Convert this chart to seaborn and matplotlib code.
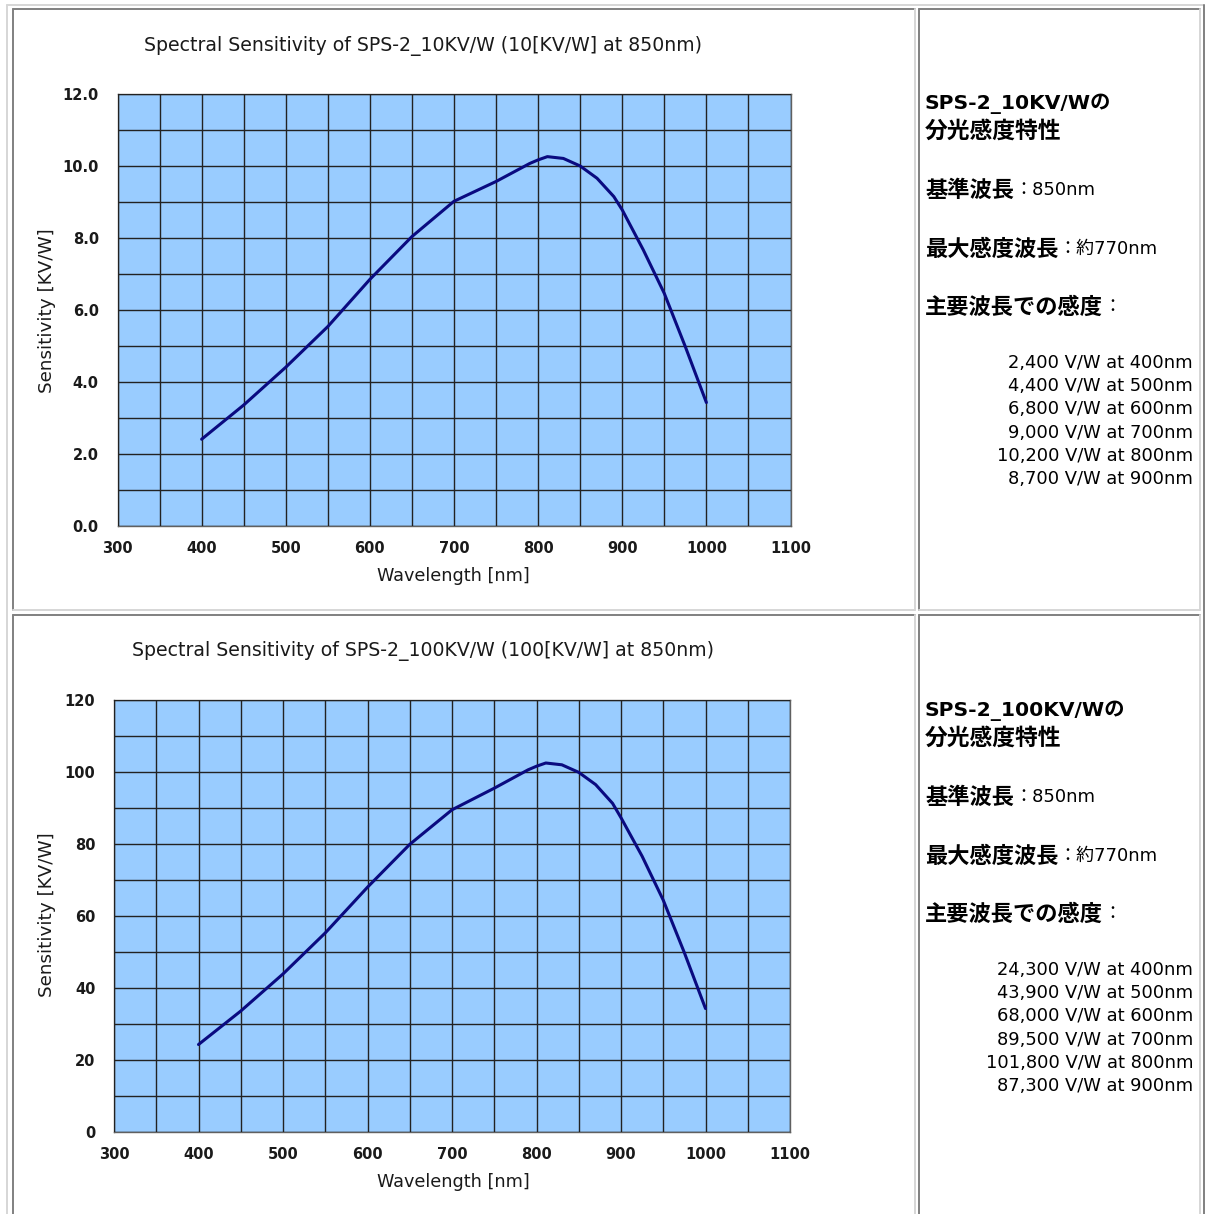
import numpy as np
import pandas as pd
import matplotlib
matplotlib.use("Agg")
import matplotlib.pyplot as plt
import seaborn as sns
from matplotlib.lines import Line2D

# ---------------- data ----------------
wavelength_nm = [400, 450, 500, 550, 600, 650, 700, 750, 790, 800, 811, 830,
                 850, 870, 890, 900, 925, 950, 975, 1000]
sens_10kvw = [2.41, 3.36, 4.41, 5.54, 6.85, 8.04, 9.02, 9.57, 10.07, 10.17, 10.26,
              10.21, 10.00, 9.66, 9.15, 8.78, 7.67, 6.46, 4.98, 3.43]
sens_100kvw = [24.3, 33.6, 43.9, 55.3, 68.0, 79.9, 89.5, 95.5, 100.6, 101.6, 102.5,
               102.0, 99.9, 96.5, 91.3, 87.3, 76.6, 64.4, 49.8, 34.3]

x_ticks = [300, 400, 500, 600, 700, 800, 900, 1000, 1100]
y_ticks_10 = [0.0, 2.0, 4.0, 6.0, 8.0, 10.0, 12.0]
y_ticks_100 = [0, 20, 40, 60, 80, 100, 120]

title_10 = "Spectral Sensitivity of SPS-2_10KV/W (10[KV/W] at 850nm)"
title_100 = "Spectral Sensitivity of SPS-2_100KV/W (100[KV/W] at 850nm)"
xlabel = "Wavelength [nm]"
ylabel = "Sensitivity [KV/W]"

head_10 = "SPS-2_10KV/Wの"
head_100 = "SPS-2_100KV/Wの"
head_2 = "分光感度特性"
ref_label, ref_value = "基準波長", "：850nm"
peak_label, peak_value = "最大感度波長", "：約770nm"
main_label, main_value = "主要波長での感度", "："
specs_10 = ["2,400 V/W at 400nm", "4,400 V/W at 500nm", "6,800 V/W at 600nm",
            "9,000 V/W at 700nm", "10,200 V/W at 800nm", "8,700 V/W at 900nm"]
specs_100 = ["24,300 V/W at 400nm", "43,900 V/W at 500nm", "68,000 V/W at 600nm",
             "89,500 V/W at 700nm", "101,800 V/W at 800nm", "87,300 V/W at 900nm"]

# ---------------- figure ----------------
W, H = 1207, 1214
sns.set_style("white")
FAM = ["DejaVu Sans", "Noto Sans CJK JP"]
plt.rcParams["font.family"] = FAM
plt.rcParams["text.color"] = "black"
fig = plt.figure(figsize=(W / 100, H / 100), dpi=100)
fig.patch.set_facecolor("white")

TXT = "#1a1a1a"


def fx(px):
    return px / W


def fy(py):
    return 1 - py / H


# table borders (HTML style)
DARK, LIGHT = "#808080", "#d6d6d6"


def hline(x0, x1, y, c, lw=1.4):
    fig.add_artist(Line2D([fx(x0), fx(x1)], [fy(y), fy(y)], color=c, lw=lw))


def vline(x, y0, y1, c, lw=1.4):
    fig.add_artist(Line2D([fx(x), fx(x)], [fy(y0), fy(y1)], color=c, lw=lw))


# outer table
hline(7, 1204, 4.5, LIGHT)
vline(7, 4.5, 1214, LIGHT)
vline(1204, 4.5, 1214, DARK)
# cells
for (x0, x1) in [(12.7, 915), (919.3, 1200)]:
    for (y0, y1) in [(9.3, 610), (615, 1220)]:
        hline(x0, x1, y0, DARK)
        vline(x0, y0, y1, DARK)
        vline(x1, y0, y1, LIGHT)
        hline(x0, x1, y1, LIGHT)


def make_chart(rect, y, yticks, ystep, yfmt, title, title_y, xlab_y, ylab_y):
    ax = fig.add_axes(rect)
    df = pd.DataFrame({"wavelength": wavelength_nm, "sens": y})
    sns.lineplot(data=df, x="wavelength", y="sens", ax=ax, color="#0a0a80",
                 lw=2.2, sort=False)
    ax.set_facecolor("#99ccff")
    ax.set_xlim(300, 1100)
    ax.set_ylim(yticks[0], yticks[-1])
    ax.set_xticks(x_ticks)
    ax.set_xticklabels([str(v) for v in x_ticks])
    ax.set_xticks(np.arange(300, 1101, 50), minor=True)
    ax.set_yticks(yticks)
    ax.set_yticklabels([yfmt.format(v) for v in yticks])
    ax.set_yticks(np.arange(yticks[0], yticks[-1] + ystep / 2, ystep), minor=True)
    ax.grid(which="both", color="#222222", lw=1.0)
    ax.set_axisbelow(False)
    for ln in ax.get_lines():
        ln.set_zorder(5)
    ax.tick_params(which="both", length=0)
    ax.tick_params(axis="y", pad=13.5, labelsize=10.5, labelcolor=TXT)
    ax.tick_params(axis="x", pad=10.5, labelsize=10.5, labelcolor=TXT)
    for lab in ax.get_xticklabels() + ax.get_yticklabels():
        lab.set_fontweight("bold")
    for s in ax.spines.values():
        s.set_color("#606060")
        s.set_linewidth(1.0)
    ax.set_xlabel("")
    ax.set_ylabel("")
    fig.text(fx(423), fy(title_y), title, ha="center", va="center",
             fontsize=13.6, color=TXT)
    fig.text(fx(453), fy(xlab_y), xlabel, ha="center", va="center",
             fontsize=12.7, color=TXT)
    fig.text(fx(47), fy(ylab_y), ylabel, ha="center", va="center",
             fontsize=13.2, color=TXT, rotation=90)
    return ax


make_chart([fx(117.5), fy(526), (790.5 - 117.5) / W, 432 / H], sens_10kvw,
           y_ticks_10, 1.0, "{:.1f}", title_10, 46, 576, 311)
make_chart([fx(114), fy(1132), (790 - 114) / W, 432 / H], sens_100kvw,
           y_ticks_100, 10, "{:d}", title_100, 651, 1182, 915)

renderer = fig.canvas.get_renderer()


def pair(px, py, bold_text, normal_text, bsize=16, nsize=13):
    t = fig.text(fx(px), fy(py), bold_text, ha="left", va="center",
                 fontsize=bsize, fontweight="bold", family=FAM, color="black")
    bb = t.get_window_extent(renderer)
    fig.text(bb.x1 / W, fy(py), normal_text, ha="left", va="center",
             fontsize=nsize, family=FAM, color="black")


def panel(y0, head, specs):
    fig.text(fx(925), fy(y0), head, ha="left", va="center", fontsize=14.6,
             fontweight="bold", family=FAM, color="black")
    fig.text(fx(925), fy(y0 + 27), head_2, ha="left", va="center", fontsize=16.4,
             fontweight="bold", family=FAM, color="black")
    pair(925, y0 + 86, ref_label, ref_value)
    pair(925, y0 + 145, peak_label, peak_value)
    pair(925, y0 + 203, main_label, main_value)
    for i, s in enumerate(specs):
        fig.text(fx(1193), fy(y0 + 259 + i * 23.2), s, ha="right", va="center",
                 fontsize=12.9, family=FAM, color="black")


panel(104, head_10, specs_10)
panel(711, head_100, specs_100)

fig.savefig("out.png", dpi=100)
